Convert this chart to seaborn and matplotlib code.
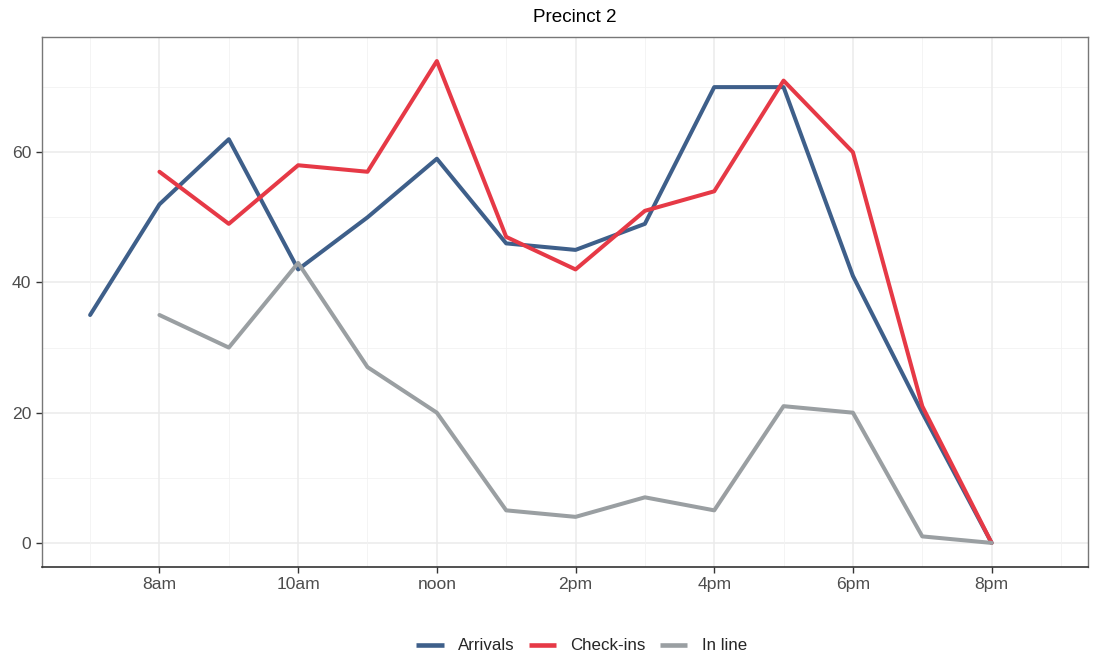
import matplotlib
matplotlib.use("Agg")
import matplotlib.pyplot as plt
import pandas as pd
import seaborn as sns

# hours of day (24h clock)
hours = [7, 8, 9, 10, 11, 12, 13, 14, 15, 16, 17, 18, 19, 20]
arrivals = [35, 52, 62, 42, 50, 59, 46, 45, 49, 70, 70, 41, 20, 0]
checkins = [None, 57, 49, 58, 57, 74, 47, 42, 51, 54, 71, 60, 21, 0]
in_line = [None, 35, 30, 43, 27, 20, 5, 4, 7, 5, 21, 20, 1, 0]

tick_hours = [8, 10, 12, 14, 16, 18, 20]
tick_labels = ["8am", "10am", "noon", "2pm", "4pm", "6pm", "8pm"]

series = ["Arrivals", "Check-ins", "In line"]
colors = {"Arrivals": "#3e5f8a", "Check-ins": "#e63946", "In line": "#9a9fa2"}

rows = []
for name, vals in zip(series, [arrivals, checkins, in_line]):
    for h, v in zip(hours, vals):
        if v is not None:
            rows.append({"hour": h, "count": v, "series": name})
df = pd.DataFrame(rows)

sns.set_style("white")
plt.rcParams["font.family"] = ["Liberation Sans", "DejaVu Sans"]

fig = plt.figure(figsize=(11.03, 6.58), dpi=100)
ax = fig.add_axes([0.038, 0.1383, 0.9484, 0.8055])

# grid like ggplot theme_bw
for y in [0, 20, 40, 60]:
    ax.axhline(y, color="#ebebeb", lw=1.1, zorder=0)
for y in [10, 30, 50, 70]:
    ax.axhline(y, color="#f2f2f2", lw=0.6, zorder=0)
for x in tick_hours:
    ax.axvline(x, color="#ebebeb", lw=1.1, zorder=0)
for x in [7, 9, 11, 13, 15, 17, 19, 21]:
    ax.axvline(x, color="#f2f2f2", lw=0.6, zorder=0)

sns.lineplot(data=df, x="hour", y="count", hue="series", hue_order=series,
             palette=colors, linewidth=2.9, ax=ax, legend=True)

ax.set_xlim(6.305, 21.39)
ax.set_ylim(-3.7, 77.7)
ax.set_xticks(tick_hours)
ax.set_xticklabels(tick_labels)
ax.set_yticks([0, 20, 40, 60])
ax.set_xlabel("")
ax.set_ylabel("")
ax.tick_params(axis="both", which="major", length=4, width=1, color="#333333",
               labelsize=12.6, labelcolor="#4d4d4d", direction="out", bottom=True, left=True)

for side in ["top", "right", "left"]:
    ax.spines[side].set_color("#777777")
    ax.spines[side].set_linewidth(1)
ax.spines["bottom"].set_color("#333333")
ax.spines["bottom"].set_linewidth(1.2)

ax.set_title("Precinct 2", fontsize=13.6, color="black", pad=11, x=0.509)

handles, labels = ax.get_legend_handles_labels()
for h in handles:
    h.set_linewidth(3.3)
    h.set_solid_capstyle("butt")
ax.legend(handles, labels, loc="center", bbox_to_anchor=(0.516, -0.149), ncol=3,
          frameon=False, fontsize=12.2, handlelength=1.6, columnspacing=0.85,
          handletextpad=0.85)

fig.savefig("out.png", dpi=100)
